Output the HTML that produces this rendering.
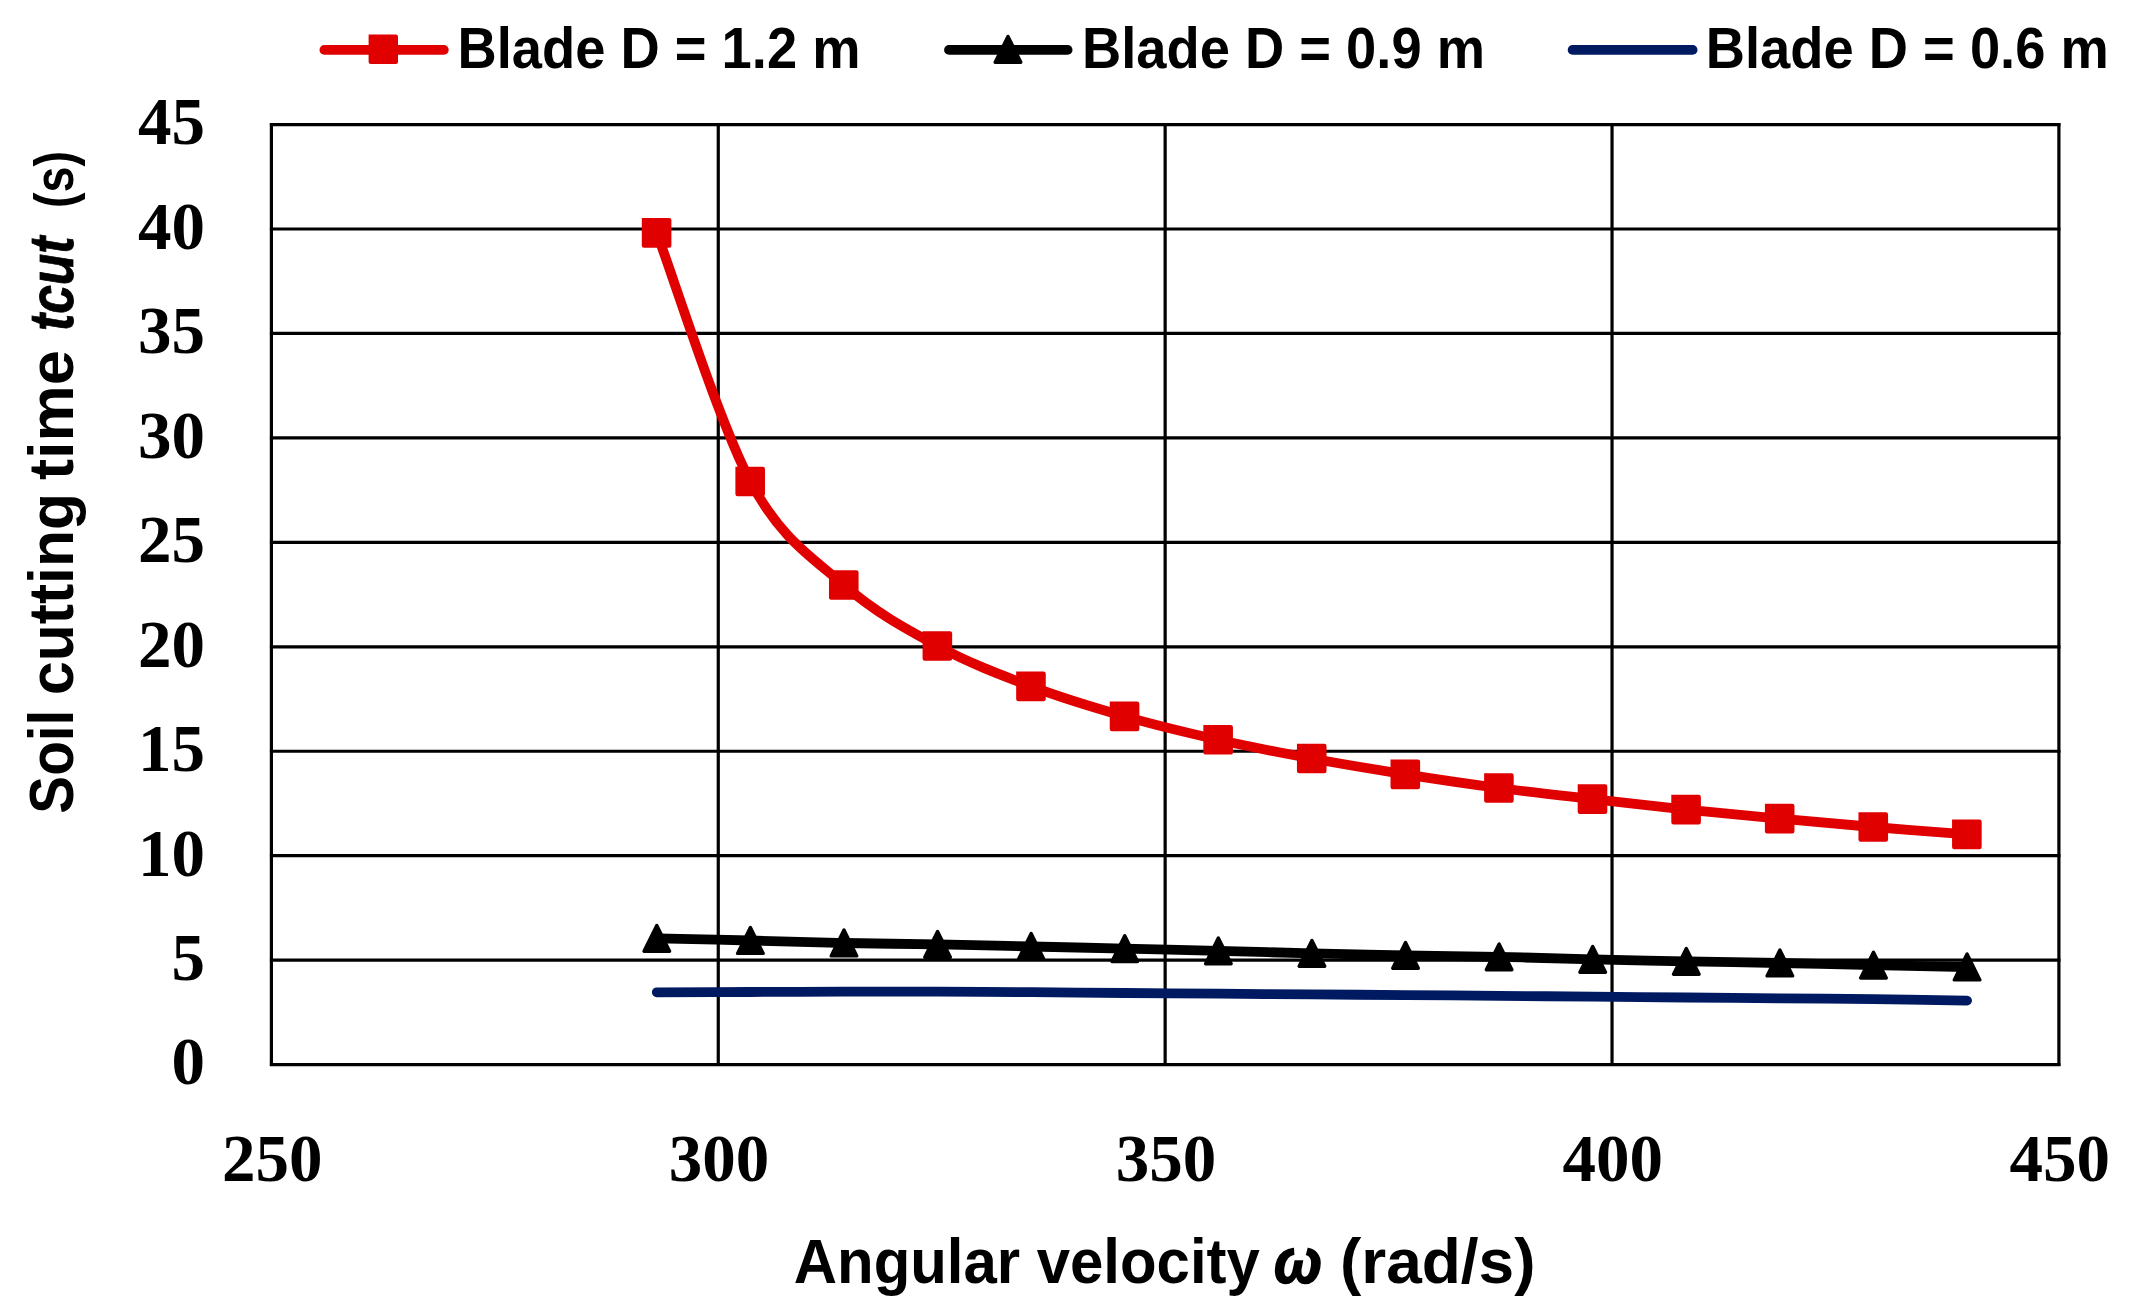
<!DOCTYPE html>
<html lang="en"><head><meta charset="utf-8"><title>Soil cutting time vs angular velocity</title>
<style>html,body{margin:0;padding:0;background:#fff}svg{display:block}.sb{font-family:"Liberation Sans",Arial,sans-serif;font-weight:bold;fill:#000}.sbi{font-family:"Liberation Sans",Arial,sans-serif;font-weight:bold;font-style:italic;fill:#000}.tk{font-family:"Liberation Serif","Times New Roman",serif;font-weight:bold;font-size:67px;fill:#000}</style></head><body>
<svg width="2132" height="1316" viewBox="0 0 2132 1316">
<rect width="2132" height="1316" fill="#fff"/>
<g stroke="#000" stroke-width="3.2" fill="none"><line x1="269.90" y1="1064.60" x2="2060.40" y2="1064.60"/><line x1="269.90" y1="960.15" x2="2060.40" y2="960.15"/><line x1="269.90" y1="855.70" x2="2060.40" y2="855.70"/><line x1="269.90" y1="751.25" x2="2060.40" y2="751.25"/><line x1="269.90" y1="646.80" x2="2060.40" y2="646.80"/><line x1="269.90" y1="542.35" x2="2060.40" y2="542.35"/><line x1="269.90" y1="437.90" x2="2060.40" y2="437.90"/><line x1="269.90" y1="333.45" x2="2060.40" y2="333.45"/><line x1="269.90" y1="229.00" x2="2060.40" y2="229.00"/><line x1="269.90" y1="124.55" x2="2060.40" y2="124.55"/><line x1="271.40" y1="123.05" x2="271.40" y2="1066.10"/><line x1="718.27" y1="123.05" x2="718.27" y2="1066.10"/><line x1="1165.15" y1="123.05" x2="1165.15" y2="1066.10"/><line x1="1612.03" y1="123.05" x2="1612.03" y2="1066.10"/><line x1="2058.90" y1="123.05" x2="2058.90" y2="1066.10"/></g>
<g class="tk"><text x="205" y="1084.4" text-anchor="end">0</text><text x="205" y="979.9" text-anchor="end">5</text><text x="205" y="875.5" text-anchor="end">10</text><text x="205" y="771.0" text-anchor="end">15</text><text x="205" y="666.6" text-anchor="end">20</text><text x="205" y="562.1" text-anchor="end">25</text><text x="205" y="457.7" text-anchor="end">30</text><text x="205" y="353.2" text-anchor="end">35</text><text x="205" y="248.8" text-anchor="end">40</text><text x="205" y="144.3" text-anchor="end">45</text><text x="272.2" y="1180.5" text-anchor="middle">250</text><text x="719.1" y="1180.5" text-anchor="middle">300</text><text x="1166.0" y="1180.5" text-anchor="middle">350</text><text x="1612.8" y="1180.5" text-anchor="middle">400</text><text x="2059.7" y="1180.5" text-anchor="middle">450</text></g>
<path d="M656.80,992.30 C672.40,992.25 719.19,992.10 750.39,992.00 C781.59,991.90 812.78,991.77 843.98,991.70 C875.18,991.63 906.37,991.52 937.57,991.60 C968.77,991.68 999.96,991.97 1031.16,992.20 C1062.36,992.43 1093.55,992.75 1124.75,993.00 C1155.95,993.25 1187.14,993.47 1218.34,993.70 C1249.54,993.93 1280.73,994.17 1311.93,994.40 C1343.13,994.63 1374.32,994.87 1405.52,995.10 C1436.72,995.33 1467.91,995.53 1499.11,995.80 C1530.31,996.07 1561.50,996.42 1592.70,996.70 C1623.90,996.98 1655.09,997.23 1686.29,997.50 C1717.49,997.77 1748.68,998.02 1779.88,998.30 C1811.08,998.58 1842.27,998.82 1873.47,999.20 C1904.67,999.58 1951.46,1000.37 1967.06,1000.60" fill="none" stroke="#001a62" stroke-width="9.8" stroke-linecap="round" stroke-linejoin="round"/>
<path d="M656.80,938.40 C672.40,938.75 719.19,939.73 750.39,940.50 C781.59,941.27 812.78,942.35 843.98,943.00 C875.18,943.65 906.37,943.82 937.57,944.40 C968.77,944.98 999.96,945.80 1031.16,946.50 C1062.36,947.20 1093.55,947.87 1124.75,948.60 C1155.95,949.33 1187.14,950.12 1218.34,950.90 C1249.54,951.68 1280.73,952.55 1311.93,953.30 C1343.13,954.05 1374.32,954.80 1405.52,955.40 C1436.72,956.00 1467.91,956.25 1499.11,956.90 C1530.31,957.55 1561.50,958.55 1592.70,959.30 C1623.90,960.05 1655.09,960.78 1686.29,961.40 C1717.49,962.02 1748.68,962.37 1779.88,963.00 C1811.08,963.63 1842.27,964.53 1873.47,965.20 C1904.67,965.87 1951.46,966.70 1967.06,967.00" fill="none" stroke="#000" stroke-width="9.8" stroke-linecap="round" stroke-linejoin="round"/>
<g fill="#000" stroke="#000" stroke-width="3.4" stroke-linejoin="round"><polygon points="656.80,925.50 644.00,951.30 669.60,951.30"/><polygon points="750.39,927.60 737.59,953.40 763.19,953.40"/><polygon points="843.98,930.10 831.18,955.90 856.78,955.90"/><polygon points="937.57,931.50 924.77,957.30 950.37,957.30"/><polygon points="1031.16,933.60 1018.36,959.40 1043.96,959.40"/><polygon points="1124.75,935.70 1111.95,961.50 1137.55,961.50"/><polygon points="1218.34,938.00 1205.54,963.80 1231.14,963.80"/><polygon points="1311.93,940.40 1299.13,966.20 1324.73,966.20"/><polygon points="1405.52,942.50 1392.72,968.30 1418.32,968.30"/><polygon points="1499.11,944.00 1486.31,969.80 1511.91,969.80"/><polygon points="1592.70,946.40 1579.90,972.20 1605.50,972.20"/><polygon points="1686.29,948.50 1673.49,974.30 1699.09,974.30"/><polygon points="1779.88,950.10 1767.08,975.90 1792.68,975.90"/><polygon points="1873.47,952.30 1860.67,978.10 1886.27,978.10"/><polygon points="1967.06,954.10 1954.26,979.90 1979.86,979.90"/></g>
<path d="M656.80,232.90 C672.40,274.33 719.19,422.82 750.39,481.50 C781.59,540.18 812.78,557.58 843.98,585.00 C875.18,612.42 906.37,629.10 937.57,646.00 C968.77,662.90 999.96,674.67 1031.16,686.40 C1062.36,698.13 1093.55,707.50 1124.75,716.40 C1155.95,725.30 1187.14,732.78 1218.34,739.80 C1249.54,746.82 1280.73,752.74 1311.93,758.50 C1343.13,764.26 1374.32,769.43 1405.52,774.35 C1436.72,779.27 1467.91,783.87 1499.11,788.00 C1530.31,792.13 1561.50,795.55 1592.70,799.15 C1623.90,802.75 1655.09,806.36 1686.29,809.60 C1717.49,812.84 1748.68,815.70 1779.88,818.60 C1811.08,821.50 1842.27,824.37 1873.47,827.00 C1904.67,829.63 1951.46,833.17 1967.06,834.40" fill="none" stroke="#e00000" stroke-width="9.8" stroke-linecap="round" stroke-linejoin="round"/>
<g fill="#e00000"><path d="M641.80,218.10h27.40q2.20,0 2.20,2.20v25.20q0,2.20 -2.20,2.20h-25.20q-2.20,0 -2.20,-2.20z"/><path d="M735.39,466.70h27.40q2.20,0 2.20,2.20v25.20q0,2.20 -2.20,2.20h-25.20q-2.20,0 -2.20,-2.20z"/><path d="M828.98,570.20h27.40q2.20,0 2.20,2.20v25.20q0,2.20 -2.20,2.20h-25.20q-2.20,0 -2.20,-2.20z"/><path d="M922.57,631.20h27.40q2.20,0 2.20,2.20v25.20q0,2.20 -2.20,2.20h-25.20q-2.20,0 -2.20,-2.20z"/><path d="M1016.16,671.60h27.40q2.20,0 2.20,2.20v25.20q0,2.20 -2.20,2.20h-25.20q-2.20,0 -2.20,-2.20z"/><path d="M1109.75,701.60h27.40q2.20,0 2.20,2.20v25.20q0,2.20 -2.20,2.20h-25.20q-2.20,0 -2.20,-2.20z"/><path d="M1203.34,725.00h27.40q2.20,0 2.20,2.20v25.20q0,2.20 -2.20,2.20h-25.20q-2.20,0 -2.20,-2.20z"/><path d="M1296.93,743.70h27.40q2.20,0 2.20,2.20v25.20q0,2.20 -2.20,2.20h-25.20q-2.20,0 -2.20,-2.20z"/><path d="M1390.52,759.55h27.40q2.20,0 2.20,2.20v25.20q0,2.20 -2.20,2.20h-25.20q-2.20,0 -2.20,-2.20z"/><path d="M1484.11,773.20h27.40q2.20,0 2.20,2.20v25.20q0,2.20 -2.20,2.20h-25.20q-2.20,0 -2.20,-2.20z"/><path d="M1577.70,784.35h27.40q2.20,0 2.20,2.20v25.20q0,2.20 -2.20,2.20h-25.20q-2.20,0 -2.20,-2.20z"/><path d="M1671.29,794.80h27.40q2.20,0 2.20,2.20v25.20q0,2.20 -2.20,2.20h-25.20q-2.20,0 -2.20,-2.20z"/><path d="M1764.88,803.80h27.40q2.20,0 2.20,2.20v25.20q0,2.20 -2.20,2.20h-25.20q-2.20,0 -2.20,-2.20z"/><path d="M1858.47,812.20h27.40q2.20,0 2.20,2.20v25.20q0,2.20 -2.20,2.20h-25.20q-2.20,0 -2.20,-2.20z"/><path d="M1952.06,819.60h27.40q2.20,0 2.20,2.20v25.20q0,2.20 -2.20,2.20h-25.20q-2.20,0 -2.20,-2.20z"/></g>
<g fill="none" stroke-width="9.8" stroke-linecap="round"><line x1="324.4" y1="49.9" x2="443.8" y2="49.9" stroke="#e00000"/><line x1="949" y1="49.9" x2="1067.6" y2="49.9" stroke="#000"/><line x1="1572.6" y1="49.9" x2="1692.6" y2="49.9" stroke="#001a62"/></g>
<g fill="#e00000"><path d="M368.60,34.60h27.20q2.20,0 2.20,2.20v25.00q0,2.20 -2.20,2.20h-25.00q-2.20,0 -2.20,-2.20z"/></g>
<g fill="#000" stroke="#000" stroke-width="3.4" stroke-linejoin="round"><polygon points="1008.00,36.50 995.20,62.30 1020.80,62.30"/></g>
<g class="sb" font-size="56.7"><text x="457.5" y="67.8" textLength="403" lengthAdjust="spacingAndGlyphs">Blade D = 1.2 m</text><text x="1082" y="67.8" textLength="403" lengthAdjust="spacingAndGlyphs">Blade D = 0.9 m</text><text x="1705.8" y="67.8" textLength="403" lengthAdjust="spacingAndGlyphs">Blade D = 0.6 m</text></g>
<g font-size="63.2"><text class="sb" x="793.8" y="1283" textLength="466" lengthAdjust="spacingAndGlyphs">Angular velocity</text><text class="sbi" stroke="#000" stroke-width="1.6" x="1274" y="1283" textLength="48" lengthAdjust="spacingAndGlyphs">ω</text><text class="sb" x="1340" y="1283" textLength="195.5" lengthAdjust="spacingAndGlyphs">(rad/s)</text></g>
<g font-size="63.2" transform="translate(72.5,0) rotate(-90)"><text class="sb" x="-813.7" y="0" textLength="104" lengthAdjust="spacingAndGlyphs">Soil</text><text class="sb" x="-695" y="0" textLength="202" lengthAdjust="spacingAndGlyphs">cutting</text><text class="sb" x="-480" y="0" textLength="130" lengthAdjust="spacingAndGlyphs">time</text><text class="sbi" stroke="#000" stroke-width="0.8" x="-331" y="0" textLength="94.5" lengthAdjust="spacingAndGlyphs">tcut</text><text class="sb" x="-208" y="0" font-size="55" textLength="57" lengthAdjust="spacingAndGlyphs">(s)</text></g>
</svg></body></html>
